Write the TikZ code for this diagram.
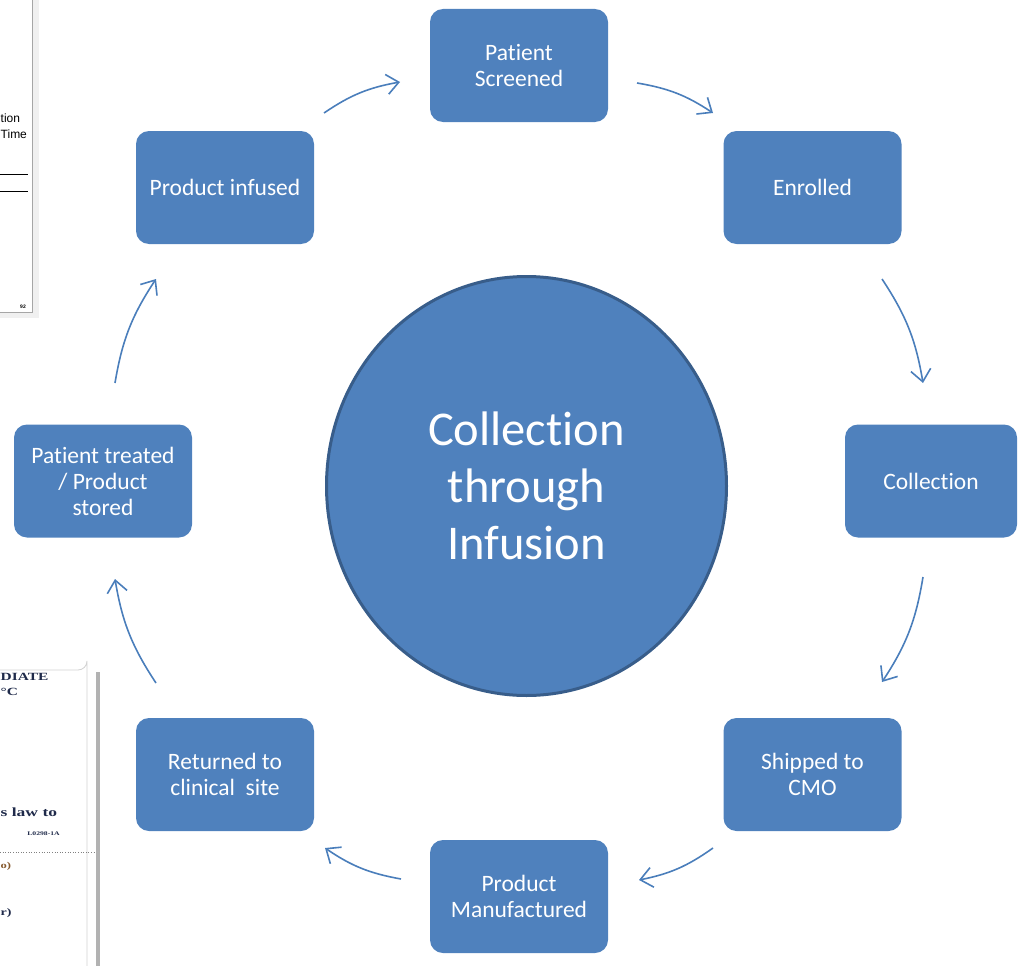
\documentclass[tikz,border=0pt]{standalone}
\usepackage{fontspec}
\setmainfont{Carlito}[Ligatures={NoCommon}]
\newfontfamily\fragsans{Liberation Sans}
\newfontfamily\fragserif{Liberation Serif}
\usetikzlibrary{arrows.meta,shapes.geometric}

\definecolor{cyclefill}{HTML}{4F81BD}
\definecolor{cycleedge}{HTML}{385D8A}
\definecolor{arrowblue}{HTML}{4A7EBB}
\definecolor{navytext}{HTML}{1F2A4A}

\tikzset{
  stepbox/.style={rectangle, rounded corners=13pt, fill=cyclefill, draw=none,
    minimum width=178pt, minimum height=113pt, inner sep=0pt, align=center,
    text=white, font=\fontsize{23.5}{26}\selectfont},
  hub/.style={ellipse, fill=cyclefill, draw=cycleedge, line width=3pt,
    minimum width=400pt, minimum height=419pt, inner sep=0pt, align=center,
    text=white, font=\fontsize{48.5}{57}\selectfont},
  flow/.style={draw=arrowblue, line width=1.6pt, bend left=12,
    -{Straight Barb[length=12pt,width=20pt]}},
  pageedge/.style={draw=gray!70, line width=0.8pt},
  pageshade/.style={fill=gray!12, draw=none},
  fragtext/.style={anchor=west, inner sep=0pt}
}
% wide bold serif lettering of the lower page
\newcommand{\widebold}[2]{\scalebox{1.4}[1]{\fragserif\bfseries\fontsize{#1}{#1}\selectfont #2}}

\begin{document}
\begin{tikzpicture}[x=1pt, y=-1pt]
  \useasboundingbox (0,0) rectangle (1018,966);
  \clip (0,0) rectangle (1018,966);

  % ---- page fragment, upper left ----
  \fill[pageshade] (0,0) rectangle (39,318);
  \fill[white] (0,0) rectangle (32,312);
  \draw[pageedge] (32,0) -- (32,312) -- (0,312);
  \node[fragtext, font=\fragsans\fontsize{12}{13}\selectfont] (tl1) at (0.5,118) {tion};
  \node[fragtext, font=\fragsans\fontsize{12}{13}\selectfont] (tl2) at (0.5,134) {Time};
  \draw[black, line width=1pt] (0,174) -- (28,174);
  \draw[black, line width=1pt] (0,191) -- (28,191);
  \node[anchor=east, inner sep=0pt, font=\fragsans\bfseries\fontsize{5}{6}\selectfont] (tl3) at (26,307) {92};

  % ---- page fragment, lower left ----
  \fill[white] (0,670) rectangle (96,966);
  \draw[gray!35, line width=0.8pt] (0,670) -- (78,670) arc[start angle=90, end angle=0, radius=9] -- (87,966);
  \fill[gray!60] (96,672) rectangle (100,966);
  \node[fragtext, text=navytext] (bl1) at (0.5,677) {\widebold{11}{DIATE}};
  \node[fragtext, text=navytext] (bl2) at (0.5,692) {\widebold{11}{°C}};
  \node[fragtext, text=navytext] (bl3) at (0.5,812) {\widebold{12.5}{s law to}};
  \node[anchor=east, inner sep=0pt, text=navytext] (bl4) at (60,834) {\widebold{5.5}{L0298-1A}};
  \draw[gray, line width=0.6pt, dotted] (0,852) -- (95,852);
  \node[fragtext, text=brown!70!black] (bl5) at (0.5,866) {\widebold{9}{o)}};
  \node[fragtext, text=navytext] (bl6) at (0.5,913) {\widebold{10}{r)}};

  % ---- central hub ----
  \node[hub] (hub) at (526.5,486) {Collection\\through\\Infusion};

  % ---- cycle steps ----
  \node[stepbox] (screen)  at (519,65.5)   {Patient\\Screened};
  \node[stepbox] (enrol)   at (812.5,187.5) {Enrolled};
  \node[stepbox, minimum width=172pt] (collect) at (931,481) {Collection};
  \node[stepbox] (ship)    at (812.5,774.5) {Shipped to\\CMO};
  \node[stepbox] (make)    at (519,896.5)  {Product\\Manufactured};
  \node[stepbox] (back)    at (225,774.5)  {Returned to\\clinical\ \ site};
  \node[stepbox] (stored)  at (103,481)    {Patient treated\\/ Product\\stored};
  \node[stepbox] (infused) at (225,187.5)  {Product infused};

  % ---- arrow ends between the steps ----
  \coordinate (a1s) at (324,113);  \coordinate (a1e) at (400,82);
  \coordinate (a2s) at (637,83);   \coordinate (a2e) at (713,113);
  \coordinate (a3s) at (882,279);  \coordinate (a3e) at (923,383);
  \coordinate (a4s) at (923,577);  \coordinate (a4e) at (882,682);
  \coordinate (a5s) at (713,848);  \coordinate (a5e) at (639,880);
  \coordinate (a6s) at (401,879);  \coordinate (a6e) at (325,848);
  \coordinate (a7s) at (156,683);  \coordinate (a7e) at (115,579);
  \coordinate (a8s) at (115,383);  \coordinate (a8e) at (156,279);

  \draw[flow] (a1s) to (a1e);
  \draw[flow] (a2s) to (a2e);
  \draw[flow] (a3s) to (a3e);
  \draw[flow] (a4s) to (a4e);
  \draw[flow] (a5s) to (a5e);
  \draw[flow] (a6s) to (a6e);
  \draw[flow] (a7s) to (a7e);
  \draw[flow] (a8s) to (a8e);
\end{tikzpicture}
\end{document}
